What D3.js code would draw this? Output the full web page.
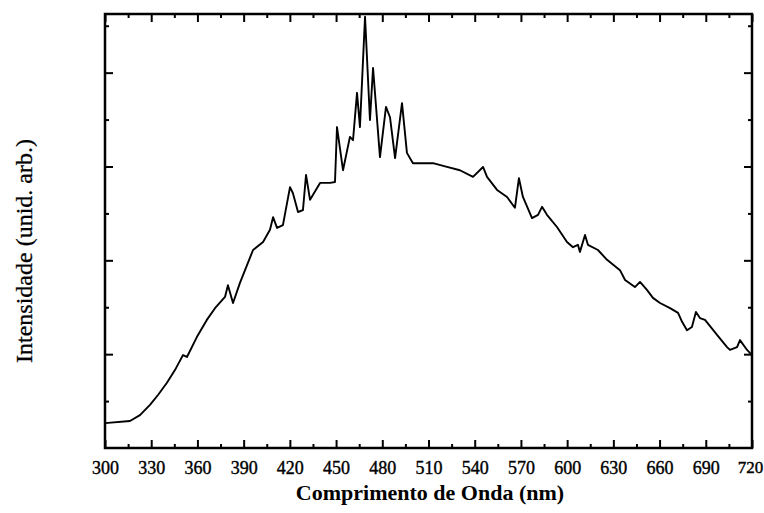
<!DOCTYPE html>
<html>
<head>
<meta charset="utf-8">
<script src="https://cdn.jsdelivr.net/npm/d3@7"></script>
<style>
  body { margin: 0; background: #fff; }
  svg { display: block; }
</style>
</head>
<body>
<div id="chart"></div>
<script>
var comprimento = [300.0, 316.2, 322.7, 329.2, 334.4, 340.2, 345.4, 350.6, 353.2, 359.7,
  366.1, 371.4, 377.9, 379.8, 383.1, 387.6, 390.9, 396.1, 402.6, 407.1,
  409.1, 411.7, 415.5, 420.1, 422.0, 425.3, 428.5, 430.5, 433.1, 439.6,
  446.1, 449.3, 450.6, 454.5, 459.0, 461.0, 463.6, 465.5, 468.8, 472.0,
  474.0, 478.5, 482.4, 485.0, 488.3, 492.8, 496.0, 499.9, 504.5, 512.9,
  522.0, 530.4, 538.9, 545.4, 548.0, 554.5, 561.0, 566.1, 568.7, 571.3,
  577.2, 581.1, 583.7, 586.9, 593.4, 599.9, 603.8, 607.0, 608.3, 611.6,
  613.5, 620.0, 625.9, 634.3, 637.6, 644.0, 647.3, 651.8, 655.7, 660.3,
  666.8, 672.0, 674.6, 677.8, 681.0, 683.6, 686.2, 689.5, 697.3, 703.8,
  705.7, 710.3, 712.2, 716.8, 720.0];
var intensidade = [0.53, 0.575, 0.70, 0.92, 1.13, 1.39, 1.66, 1.98, 1.94, 2.37,
  2.73, 2.98, 3.22, 3.47, 3.09, 3.52, 3.79, 4.22, 4.39, 4.65,
  4.92, 4.69, 4.75, 5.56, 5.43, 5.03, 5.07, 5.82, 5.29, 5.65,
  5.65, 5.67, 6.84, 5.92, 6.63, 6.56, 7.57, 6.84, 9.19, 6.99,
  8.10, 6.20, 7.27, 7.05, 6.18, 7.35, 6.29, 6.07, 6.07, 6.07,
  5.99, 5.92, 5.78, 5.99, 5.78, 5.50, 5.35, 5.12, 5.75, 5.35,
  4.90, 4.97, 5.14, 4.97, 4.71, 4.39, 4.28, 4.33, 4.18, 4.54,
  4.33, 4.22, 4.01, 3.79, 3.58, 3.43, 3.54, 3.37, 3.20, 3.09,
  2.98, 2.88, 2.69, 2.51, 2.58, 2.90, 2.77, 2.73, 2.41, 2.15,
  2.09, 2.15, 2.30, 2.09, 1.98];
var ticksX = [300, 330, 360, 390, 420, 450, 480, 510, 540, 570, 600, 630, 660, 690, 720];
var ticksXmenor = [315, 345, 375, 405, 435, 465, 495, 525, 555, 585, 615, 645, 675, 705];
var ticksY = [2, 4, 6, 8];
var ticksYmenor = [1, 3, 5, 7, 9];

var dados = comprimento.map(function(c, i) { return { nm: c, val: intensidade[i] }; });

var largura = 764, altura = 513;
var margem = { top: 14, right: 12, bottom: 65, left: 105 };

var svg = d3.select("#chart").append("svg")
  .attr("width", largura)
  .attr("height", altura);

var x = d3.scaleLinear().domain([300, 720]).range([margem.left, largura - margem.right]);
var y = d3.scaleLinear().domain([0, 9.25]).range([altura - margem.bottom, margem.top]);

var fonte = "'Liberation Serif', 'Times New Roman', serif";

// eixos com ticks para dentro
function eixo(g) {
  g.selectAll(".domain").remove();
  g.selectAll("line").attr("stroke", "#000").attr("stroke-width", 2);
}

svg.append("g")
  .attr("transform", "translate(0," + y(0) + ")")
  .call(d3.axisBottom(x).tickValues(ticksX).tickSizeInner(-8).tickSizeOuter(0).tickPadding(13).tickFormat(d3.format("d")))
  .call(eixo)
  .selectAll("text")
  .style("font-family", fonte)
  .style("font-size", "18px")
  .attr("fill", "#000")
  .attr("stroke", "#000")
  .attr("stroke-width", 0.4)
  .attr("dx", function(d) { return d === 720 ? -2 : 0; })
  .attr("text-anchor", function(d) { return d === 720 ? "middle" : "middle"; })
  .filter(function(d) { return d === 720; })
  .style("font-size", "17px");

svg.append("g")
  .attr("transform", "translate(0," + y(0) + ")")
  .call(d3.axisBottom(x).tickValues(ticksXmenor).tickSizeInner(-4).tickSizeOuter(0).tickFormat(""))
  .call(eixo);

svg.append("g")
  .attr("transform", "translate(0," + y(9.25) + ")")
  .call(d3.axisTop(x).tickValues(ticksX).tickSizeInner(-8).tickSizeOuter(0).tickFormat(""))
  .call(eixo);

svg.append("g")
  .attr("transform", "translate(0," + y(9.25) + ")")
  .call(d3.axisTop(x).tickValues(ticksXmenor).tickSizeInner(-4).tickSizeOuter(0).tickFormat(""))
  .call(eixo);

svg.append("g")
  .attr("transform", "translate(" + x(300) + ",0)")
  .call(d3.axisLeft(y).tickValues(ticksY).tickSizeInner(-8).tickSizeOuter(0).tickFormat(""))
  .call(eixo);

svg.append("g")
  .attr("transform", "translate(" + x(300) + ",0)")
  .call(d3.axisLeft(y).tickValues(ticksYmenor).tickSizeInner(-4).tickSizeOuter(0).tickFormat(""))
  .call(eixo);

svg.append("g")
  .attr("transform", "translate(" + x(720) + ",0)")
  .call(d3.axisRight(y).tickValues(ticksY).tickSizeInner(-8).tickSizeOuter(0).tickFormat(""))
  .call(eixo);

svg.append("g")
  .attr("transform", "translate(" + x(720) + ",0)")
  .call(d3.axisRight(y).tickValues(ticksYmenor).tickSizeInner(-4).tickSizeOuter(0).tickFormat(""))
  .call(eixo);

// moldura
svg.append("rect")
  .attr("x", x(300))
  .attr("y", y(9.25))
  .attr("width", x(720) - x(300))
  .attr("height", y(0) - y(9.25))
  .attr("fill", "none")
  .attr("stroke", "#000")
  .attr("stroke-width", 2.5);

// curva do espectro
var linha = d3.line()
  .x(function(d) { return x(d.nm); })
  .y(function(d) { return y(d.val); });

svg.append("path")
  .datum(dados)
  .attr("fill", "none")
  .attr("stroke", "#000")
  .attr("stroke-width", 1.9)
  .attr("stroke-linejoin", "round")
  .attr("d", linha);

// titulos dos eixos
svg.append("text")
  .attr("x", 430)
  .attr("y", 500)
  .attr("text-anchor", "middle")
  .style("font-family", fonte)
  .style("font-size", "22px")
  .style("font-weight", "bold")
  .text("Comprimento de Onda (nm)");

svg.append("text")
  .attr("transform", "rotate(-90)")
  .attr("x", -251)
  .attr("y", 32)
  .attr("text-anchor", "middle")
  .style("font-family", fonte)
  .style("font-size", "24px")
  .attr("stroke", "#000")
  .attr("stroke-width", 0.3)
  .text("Intensidade (unid. arb.)");
</script>
</body>
</html>
